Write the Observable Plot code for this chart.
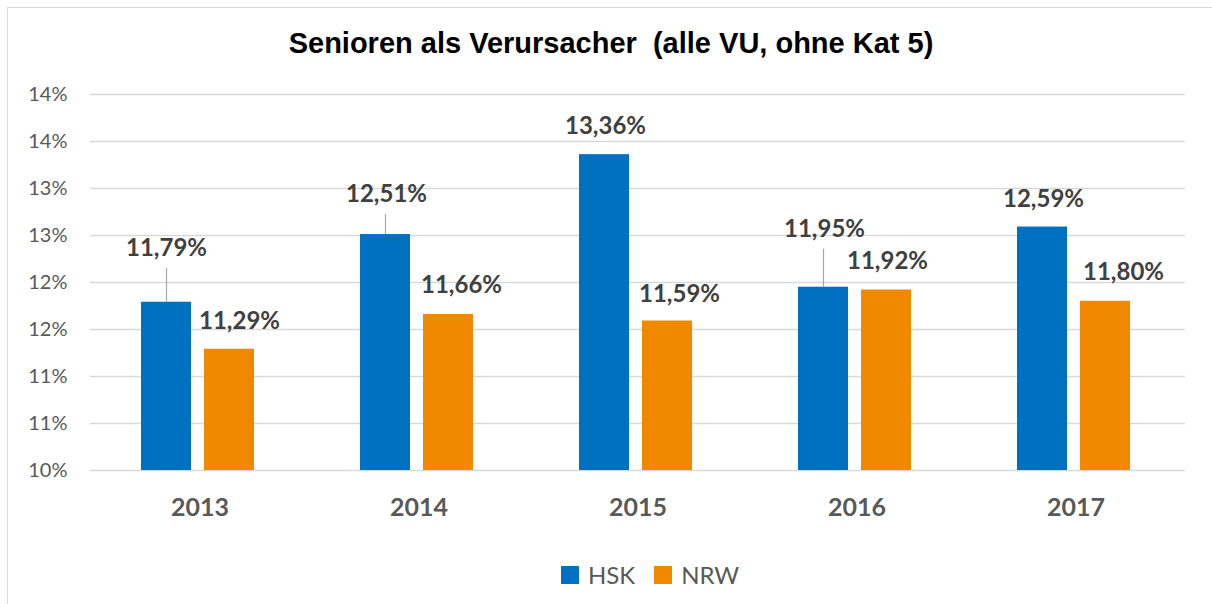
<!DOCTYPE html>
<html>
<head>
<meta charset="utf-8">
<script src="https://cdn.jsdelivr.net/npm/d3@7"></script>
<script src="https://cdn.jsdelivr.net/npm/@observablehq/plot@0.6"></script>
<style>
  html, body { margin: 0; padding: 0; background: #fff; }
  #wrap { position: relative; width: 1212px; height: 604px; overflow: hidden; background: #fff; }
  #frame { position: absolute; left: 7px; top: 7px; width: 1215px; height: 600px; border: 1px solid #d9d9d9; box-sizing: border-box; }
  #title { position: absolute; left: 0; width: 1222px; top: 27px; text-align: center;
           font: bold 29px/32px "Liberation Sans", Arial, sans-serif; color: #000; white-space: pre; }
  #chart { position: absolute; left: 0; top: 60px; }
  #legend { position: absolute; left: 561px; top: 562px; display: flex; align-items: center;
            font: 24px/26px Lato, sans-serif; color: #595959; }
  .sw { width: 18px; height: 18px; display: inline-block; margin-right: 9px; }
  .item { display: flex; align-items: center; margin-right: 19px; }
</style>
</head>
<body>
<div id="wrap">
  <div id="frame"></div>
  <div id="title"></div>
  <div id="chart"></div>
  <div id="legend"></div>
</div>
<script>
// ---- data ----
const years = ["2013", "2014", "2015", "2016", "2017"];
const seriesNames = ["HSK", "NRW"];
const hskValues = [11.79, 12.51, 13.36, 11.95, 12.59];
const nrwValues = [11.29, 11.66, 11.59, 11.92, 11.80];
const yTicks = [10, 10.5, 11, 11.5, 12, 12.5, 13, 13.5, 14];
const yTickLabels = ["10%", "11%", "11%", "12%", "12%", "13%", "13%", "14%", "14%"];
const titleText = "Senioren als Verursacher  (alle VU, ohne Kat 5)";
const seriesColors = ["#0070C0", "#F08800"];

// ---- layout ----
const W = 1212, H = 480;
const mTop = 34, mBottom = 70, mLeft = 88, mRight = 25;
const yMin = 10, yMax = 14;
const pxPerUnit = (H - mTop - mBottom) / (yMax - yMin);
// label placement: [lift above bar top (px), horizontal shift (px), leader line]
const labelLayout = {
  "HSK": [[54, -2, true], [40, -1, true], [28, -1, false], [58, -1, true], [27.5, -1, false]],
  "NRW": [[28, 8, false], [29, 11, false], [26.5, 10, false], [28.5, -1, false], [28.5, 16, false]]
};

const rows = [];
years.forEach((yr, i) => {
  rows.push({year: yr, series: "HSK", value: hskValues[i], lay: labelLayout.HSK[i]});
  rows.push({year: yr, series: "NRW", value: nrwValues[i], lay: labelLayout.NRW[i]});
});
const fmt = v => v.toFixed(2).replace(".", ",") + "%";

document.getElementById("title").textContent = titleText;

const labelMarks = rows.map(d => Plot.text([d], {
  fx: "year", x: "series", y: "value", text: r => fmt(r.value),
  dy: -d.lay[0], dx: d.lay[1], lineAnchor: "middle",
  fontSize: 24, fontWeight: "bold", fill: "#404040"
}));
const leaderMarks = rows.filter(d => d.lay[2]).map(d => Plot.ruleX([d], {
  fx: "year", x: "series", y1: "value", y2: r => r.value + (r.lay[0] - 20) / pxPerUnit,
  stroke: "#a6a6a6", strokeWidth: 1.2, dx: -2
}));

const chart = Plot.plot({
  width: W, height: H,
  marginTop: mTop, marginBottom: mBottom, marginLeft: mLeft, marginRight: mRight,
  style: {fontFamily: "Lato, sans-serif", background: "transparent"},
  fx: {domain: years, paddingInner: 0, paddingOuter: 0, label: null},
  x: {domain: seriesNames, paddingInner: 0.2, paddingOuter: 0.83, axis: null},
  y: {domain: [yMin, yMax], axis: null},
  color: {domain: seriesNames, range: seriesColors},
  marks: [
    Plot.gridY(yTicks, {stroke: "#d9d9d9", strokeOpacity: 1, strokeWidth: 1.3}),
    Plot.axisY(yTicks, {anchor: "left", tickSize: 0, tickPadding: 23, fontSize: 20, fill: "#595959",
      tickFormat: d => yTickLabels[yTicks.indexOf(d)], label: null}),
    Plot.axisFx({anchor: "bottom", tickSize: 0, tickPadding: 28, fontSize: 25, fontWeight: "bold",
      fill: "#595959", label: null}),
    Plot.barY(rows, {fx: "year", x: "series", y1: () => yMin, y2: "value", fill: "series", dx: -2}),
    ...leaderMarks,
    ...labelMarks
  ]
});
document.getElementById("chart").appendChild(chart);

const legend = document.getElementById("legend");
seriesNames.forEach((s, i) => {
  const item = document.createElement("div");
  item.className = "item";
  const sw = document.createElement("span");
  sw.className = "sw";
  sw.style.background = seriesColors[i];
  const t = document.createElement("span");
  t.textContent = s;
  item.appendChild(sw); item.appendChild(t);
  legend.appendChild(item);
});
</script>
</body>
</html>
